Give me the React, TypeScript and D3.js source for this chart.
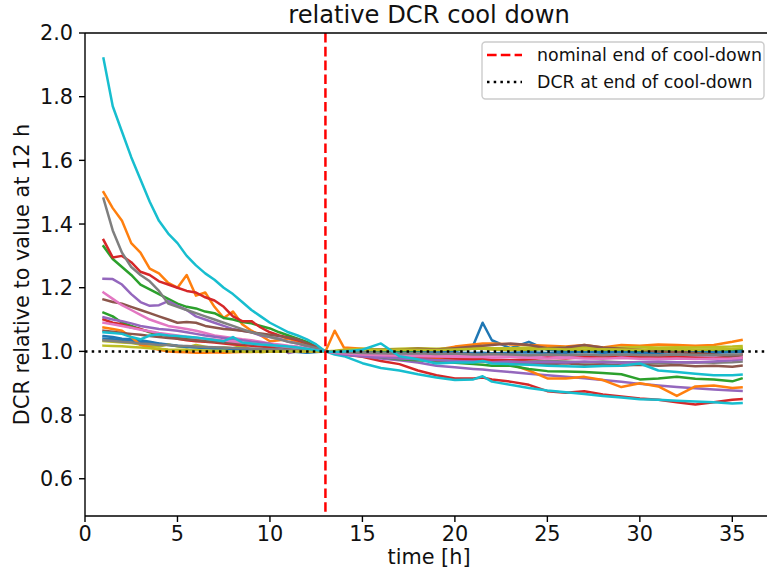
import * as d3 from "d3"

// time axis in hours (0.5 h steps during cool-down, 1 h afterwards)
const hours = [1, 1.5, 2, 2.5, 3, 3.5, 4, 4.5, 5, 5.5, 6, 6.5, 7, 7.5, 8, 8.5, 9, 9.5, 10, 10.5, 11, 11.5, 12, 12.5, 13,
  13.5, 14, 15, 16, 17, 18, 19, 20, 21, 21.5, 22, 23, 24, 25, 26, 27, 28, 29, 30, 31, 32, 33, 34, 35, 35.5]

const blue1 = [1.048, 1.045, 1.04, 1.038, 1.035, 1.03, 1.025, 1.022, 1.018, 1.015, 1.013, 1.012, 1.01, 1.01, 1.008, 1.008, 1.006, 1.005, 1.004, 1.003, 1.0, 0.998, 0.996, 0.998, 1.0,
  0.998, 0.997, 0.995, 0.996, 0.998, 0.997, 0.998, 1.0, 1.02, 1.09, 1.035, 1.01, 1.03, 1.005, 1.0, 1.002, 1.0, 1.003, 1.0, 0.998, 1.0, 1.002, 0.998, 1.0, 1.002]
const orange1 = [1.5, 1.45, 1.41, 1.34, 1.31, 1.26, 1.245, 1.215, 1.2, 1.24, 1.175, 1.185, 1.14, 1.105, 1.125, 1.085, 1.065, 1.05, 1.032, 1.035, 1.04, 1.03, 1.017, 1.01, 1.0,
  1.065, 1.012, 1.008, 1.005, 1.005, 1.003, 1.005, 1.015, 1.022, 1.025, 1.025, 1.022, 1.02, 1.018, 1.015, 1.02, 1.012, 1.02, 1.018, 1.022, 1.02, 1.018, 1.02, 1.03, 1.036]
const green1 = [1.33, 1.29, 1.265, 1.24, 1.21, 1.195, 1.18, 1.165, 1.15, 1.14, 1.135, 1.125, 1.12, 1.105, 1.1, 1.092, 1.088, 1.08, 1.072, 1.06, 1.05, 1.04, 1.03, 1.015, 1.0,
  0.998, 1.0, 1.002, 1.0, 0.998, 1.0, 1.002, 1.005, 1.008, 1.01, 1.008, 1.006, 1.005, 1.008, 1.006, 1.004, 1.006, 1.005, 1.003, 1.005, 1.006, 1.004, 1.005, 1.006, 1.008]
const red1 = [1.35, 1.295, 1.3, 1.28, 1.25, 1.24, 1.22, 1.21, 1.2, 1.19, 1.185, 1.17, 1.16, 1.14, 1.11, 1.095, 1.095, 1.075, 1.06, 1.05, 1.043, 1.035, 1.025, 1.015, 1.0,
  0.998, 0.99, 0.983, 0.97, 0.96, 0.94, 0.925, 0.915, 0.915, 0.918, 0.912, 0.905, 0.895, 0.875, 0.87, 0.875, 0.865, 0.858, 0.852, 0.848, 0.84, 0.833, 0.84, 0.848, 0.85]
const purple1 = [1.228, 1.227, 1.21, 1.18, 1.155, 1.143, 1.145, 1.158, 1.143, 1.13, 1.11, 1.1, 1.09, 1.08, 1.07, 1.065, 1.06, 1.05, 1.045, 1.04, 1.03, 1.025, 1.015, 1.008, 1.0,
  0.995, 0.99, 0.985, 0.978, 0.972, 0.965, 0.955, 0.95, 0.945, 0.943, 0.94, 0.935, 0.93, 0.925, 0.92, 0.916, 0.91, 0.905, 0.898, 0.893, 0.888, 0.884, 0.88, 0.877, 0.876]
const brown1 = [1.163, 1.155, 1.15, 1.14, 1.13, 1.12, 1.11, 1.1, 1.09, 1.092, 1.09, 1.08, 1.075, 1.07, 1.068, 1.065, 1.06, 1.056, 1.052, 1.048, 1.043, 1.038, 1.025, 1.012, 1.0,
  0.997, 0.994, 0.99, 0.985, 0.98, 0.978, 0.975, 0.972, 0.97, 0.968, 0.966, 0.965, 0.962, 0.96, 0.963, 0.958, 0.96, 0.956, 0.958, 0.955, 0.957, 0.953, 0.955, 0.952, 0.955]
const pink1 = [1.185, 1.165, 1.145, 1.13, 1.115, 1.1, 1.09, 1.08, 1.075, 1.07, 1.065, 1.058, 1.05, 1.046, 1.042, 1.038, 1.035, 1.03, 1.025, 1.022, 1.018, 1.015, 1.01, 1.005, 1.0,
  0.997, 0.995, 0.993, 0.992, 0.99, 0.99, 0.988, 0.99, 0.988, 0.987, 0.988, 0.986, 0.985, 0.987, 0.985, 0.984, 0.986, 0.984, 0.985, 0.983, 0.984, 0.985, 0.983, 0.985, 0.986]
const gray1 = [1.48, 1.38, 1.31, 1.265, 1.24, 1.22, 1.19, 1.15, 1.14, 1.13, 1.12, 1.11, 1.1, 1.09, 1.08, 1.07, 1.06, 1.053, 1.045, 1.038, 1.03, 1.025, 1.018, 1.01, 1.0,
  0.996, 0.993, 0.99, 0.985, 0.982, 0.98, 0.978, 0.975, 0.973, 0.975, 0.972, 0.97, 0.968, 0.97, 0.968, 0.965, 0.968, 0.966, 0.965, 0.963, 0.965, 0.966, 0.964, 0.966, 0.968]
const olive1 = [1.032, 1.03, 1.028, 1.026, 1.022, 1.018, 1.015, 1.022, 1.015, 1.012, 1.02, 1.015, 1.01, 1.012, 1.01, 1.018, 1.005, 0.997, 1.0, 1.002, 1.005, 1.003, 1.002, 1.001, 1.0,
  1.002, 1.005, 1.008, 1.006, 1.008, 1.01, 1.008, 1.01, 1.012, 1.012, 1.01, 1.01, 1.012, 1.01, 1.012, 1.013, 1.01, 1.012, 1.014, 1.012, 1.013, 1.012, 1.014, 1.015, 1.017]
const cyan1 = [1.92, 1.77, 1.69, 1.61, 1.54, 1.47, 1.41, 1.37, 1.34, 1.3, 1.27, 1.245, 1.225, 1.2, 1.18, 1.155, 1.13, 1.11, 1.09, 1.075, 1.06, 1.05, 1.038, 1.022, 1.0,
  0.99, 0.985, 0.963, 0.948, 0.94, 0.928, 0.918, 0.91, 0.912, 0.922, 0.905, 0.895, 0.885, 0.877, 0.872, 0.866, 0.86, 0.855, 0.85, 0.848, 0.845, 0.843, 0.84, 0.836, 0.838]
const blue2 = [1.04, 1.038, 1.036, 1.034, 1.03, 1.027, 1.024, 1.02, 1.017, 1.014, 1.012, 1.01, 1.008, 1.006, 1.005, 1.004, 1.003, 1.002, 1.002, 1.001, 1.0, 1.0, 1.0, 1.0, 1.0,
  1.0, 0.998, 0.997, 0.996, 0.995, 0.996, 0.998, 0.996, 0.995, 0.996, 0.994, 0.996, 0.997, 0.995, 0.996, 0.998, 0.996, 0.997, 0.995, 0.996, 0.997, 0.995, 0.996, 0.997, 0.998]
const orange2 = [1.075, 1.07, 1.065, 1.045, 1.02, 1.012, 1.005, 1.0, 0.998, 0.997, 0.996, 0.996, 0.997, 0.996, 0.997, 0.998, 0.998, 0.999, 1.0, 1.0, 1.001, 1.0, 1.0, 1.0, 1.0,
  0.998, 0.995, 0.99, 0.99, 0.985, 0.982, 0.98, 0.978, 0.975, 0.98, 0.972, 0.96, 0.94, 0.915, 0.915, 0.92, 0.91, 0.888, 0.9, 0.89, 0.86, 0.89, 0.893, 0.885, 0.887]
const green2 = [1.122, 1.11, 1.09, 1.08, 1.07, 1.06, 1.054, 1.05, 1.045, 1.042, 1.04, 1.036, 1.032, 1.03, 1.028, 1.025, 1.022, 1.02, 1.018, 1.015, 1.012, 1.01, 1.006, 1.003, 1.0,
  0.998, 0.995, 0.99, 0.982, 0.975, 0.972, 0.968, 0.964, 0.96, 0.958, 0.955, 0.955, 0.945, 0.938, 0.937, 0.935, 0.932, 0.928, 0.912, 0.915, 0.92, 0.914, 0.912, 0.906, 0.915]
const red2 = [1.1, 1.09, 1.085, 1.075, 1.07, 1.062, 1.055, 1.048, 1.04, 1.035, 1.032, 1.03, 1.028, 1.025, 1.022, 1.02, 1.018, 1.015, 1.013, 1.01, 1.008, 1.006, 1.004, 1.002, 1.0,
  0.997, 0.993, 0.99, 0.987, 0.985, 0.98, 0.982, 0.978, 0.975, 0.976, 0.974, 0.972, 0.975, 0.98, 0.978, 0.982, 0.985, 0.98, 0.983, 0.985, 0.982, 0.98, 0.978, 0.985, 0.99]
const purple2 = [1.107, 1.1, 1.095, 1.088, 1.08, 1.075, 1.07, 1.068, 1.065, 1.06, 1.055, 1.05, 1.046, 1.042, 1.038, 1.035, 1.03, 1.027, 1.024, 1.012, 0.995, 1.0, 1.003, 1.001, 1.0,
  0.995, 0.99, 0.985, 0.982, 0.978, 0.975, 0.972, 0.97, 0.968, 0.968, 0.966, 0.968, 0.965, 0.967, 0.965, 0.968, 0.966, 0.964, 0.967, 0.968, 0.966, 0.965, 0.968, 0.972, 0.975]
const brown2 = [1.065, 1.062, 1.058, 1.055, 1.052, 1.048, 1.045, 1.042, 1.04, 1.037, 1.035, 1.032, 1.03, 1.028, 1.026, 1.024, 1.022, 1.02, 1.018, 1.015, 1.012, 1.01, 1.007, 1.004, 1.0,
  1.0, 1.002, 1.004, 1.005, 1.006, 1.008, 1.006, 1.01, 1.015, 1.018, 1.02, 1.025, 1.02, 1.01, 1.012, 1.02, 1.012, 1.008, 1.005, 1.0, 0.998, 0.995, 0.99, 0.985, 0.98]
const pink2 = [1.09, 1.085, 1.08, 1.074, 1.068, 1.063, 1.058, 1.054, 1.05, 1.046, 1.043, 1.04, 1.037, 1.034, 1.031, 1.028, 1.025, 1.022, 1.02, 1.017, 1.014, 1.011, 1.008, 1.004, 1.0,
  0.996, 0.994, 0.99, 0.988, 0.986, 0.985, 0.984, 0.983, 0.982, 0.982, 0.98, 0.982, 0.98, 0.978, 0.98, 0.978, 0.977, 0.979, 0.977, 0.976, 0.978, 0.976, 0.977, 0.978, 0.98]
const gray2 = [1.035, 1.033, 1.03, 1.028, 1.025, 1.023, 1.02, 1.02, 1.018, 1.017, 1.015, 1.014, 1.013, 1.012, 1.011, 1.01, 1.009, 1.008, 1.007, 1.006, 1.005, 1.004, 1.003, 1.002, 1.0,
  0.998, 0.997, 0.995, 0.994, 0.993, 0.994, 0.992, 0.993, 0.99, 0.99, 0.992, 0.99, 0.988, 0.99, 0.989, 0.99, 0.988, 0.99, 0.989, 0.988, 0.99, 0.989, 0.988, 0.99, 0.99]
const olive2 = [1.018, 1.017, 1.016, 1.014, 1.012, 1.01, 1.008, 1.006, 1.005, 1.004, 1.004, 1.003, 1.002, 1.002, 1.0, 1.0, 0.999, 1.0, 1.0, 1.0, 1.0, 1.0, 1.0, 1.0, 1.0,
  1.0, 1.003, 1.005, 1.004, 1.006, 1.005, 1.004, 1.006, 1.008, 1.008, 1.006, 1.004, 1.006, 1.008, 1.006, 1.005, 1.007, 1.006, 1.005, 1.008, 1.006, 1.005, 1.006, 1.008, 1.01]
const cyan2 = [1.06, 1.058, 1.055, 1.045, 1.038, 1.05, 1.054, 1.05, 1.048, 1.046, 1.044, 1.04, 1.036, 1.032, 1.045, 1.028, 1.025, 1.022, 1.02, 1.018, 1.015, 1.012, 1.008, 1.004, 1.0,
  0.998, 1.0, 1.005, 1.025, 0.985, 0.975, 0.962, 0.965, 0.965, 0.97, 0.962, 0.96, 0.958, 0.955, 0.953, 0.952, 0.954, 0.955, 0.962, 0.94, 0.935, 0.93, 0.925, 0.925, 0.927]

// plotted in this order, colours follow the tab10 cycle
const runs = [blue1, orange1, green1, red1, purple1, brown1, pink1, gray1, olive1, cyan1,
  blue2, orange2, green2, red2, purple2, brown2, pink2, gray2, olive2, cyan2]

const xTicks = [0, 5, 10, 15, 20, 25, 30, 35]
const yTicks = [0.6, 0.8, 1.0, 1.2, 1.4, 1.6, 1.8, 2.0]
const coolDownEnd = 13
const dcrAtEnd = 1.0
const legendLabels = ["nominal end of cool-down", "DCR at end of cool-down"]

const W = 767
const H = 572
const margin = { top: 33, right: -6, bottom: 56, left: 85 }
const font = "DejaVu Sans, Verdana, sans-serif"

export default function App() {
  const left = margin.left
  const right = W - margin.right
  const top = margin.top
  const bottom = H - margin.bottom

  const x = d3.scaleLinear().domain([0, 37.2]).range([left, right])
  const y = d3.scaleLinear().domain([0.483, 2.0]).range([bottom, top])

  const line = d3
    .line<number>()
    .x((_, i) => x(hours[i]))
    .y((d) => y(d))

  const colors = d3.schemeCategory10

  return (
    <svg width={W} height={H} style={{ position: "absolute", left: 0, top: 0, background: "white" }} fontFamily={font}>
      <rect x={0} y={0} width={W} height={H} fill="white" />

      <defs>
        <clipPath id="plot">
          <rect x={left} y={top} width={right - left} height={bottom - top} />
        </clipPath>
      </defs>

      <g clipPath="url(#plot)">
        {runs.map((r, i) => (
          <path key={i} d={line(r) || ""} fill="none" stroke={colors[i % 10]} strokeWidth={2.5} strokeLinejoin="round" strokeLinecap="square" />
        ))}
        <line x1={x(coolDownEnd)} x2={x(coolDownEnd)} y1={top} y2={bottom} stroke="red" strokeWidth={2.5} strokeDasharray="9.6,4.2" />
        <line x1={left} x2={right} y1={y(dcrAtEnd)} y2={y(dcrAtEnd)} stroke="black" strokeWidth={2.5} strokeDasharray="2.5,4.2" />
      </g>

      {/* spines */}
      <g stroke="black" strokeWidth={1.4} fill="none">
        <line x1={left} x2={left} y1={top} y2={bottom} />
        <line x1={left} x2={right} y1={bottom} y2={bottom} />
        <line x1={left} x2={right} y1={top} y2={top} />
        <line x1={right} x2={right} y1={top} y2={bottom} />
      </g>

      {/* x axis */}
      <g fontSize={20.8} fill="#111" textAnchor="middle">
        {xTicks.map((t) => (
          <g key={t}>
            <line x1={x(t)} x2={x(t)} y1={bottom} y2={bottom + 6} stroke="black" strokeWidth={1.4} />
            <text x={x(t)} y={bottom + 25}>{t}</text>
          </g>
        ))}
      </g>
      <text x={(left + right) / 2} y={H - 8} textAnchor="middle" fontSize={20.8} fill="#111">time [h]</text>

      {/* y axis */}
      <g fontSize={20.8} fill="#111" textAnchor="end">
        {yTicks.map((t) => (
          <g key={t}>
            <line x1={left - 6} x2={left} y1={y(t)} y2={y(t)} stroke="black" strokeWidth={1.4} />
            <text x={left - 12} y={y(t)} dy="0.36em">{t.toFixed(1)}</text>
          </g>
        ))}
      </g>
      <text transform={`translate(29,${(top + bottom) / 2}) rotate(-90)`} textAnchor="middle" fontSize={20.8} fill="#111">
        DCR relative to value at 12 h
      </text>

      {/* title */}
      <text x={(left + right) / 2} y={23} textAnchor="middle" fontSize={24.2} fill="#111">relative DCR cool down</text>

      {/* legend */}
      <g>
        <rect x={482} y={42} width={282} height={57} rx={3.5} fill="white" fillOpacity={0.8} stroke="#cccccc" strokeWidth={1.4} />
        <line x1={487} x2={522} y1={55} y2={55} stroke="red" strokeWidth={2.5} strokeDasharray="9.6,4.2" />
        <line x1={487} x2={522} y1={82} y2={82} stroke="black" strokeWidth={2.5} strokeDasharray="2.5,4.2" />
        <text x={537} y={55} dy="0.36em" fontSize={17.4} fill="#111">{legendLabels[0]}</text>
        <text x={537} y={82} dy="0.36em" fontSize={17.4} fill="#111">{legendLabels[1]}</text>
      </g>
    </svg>
  )
}
